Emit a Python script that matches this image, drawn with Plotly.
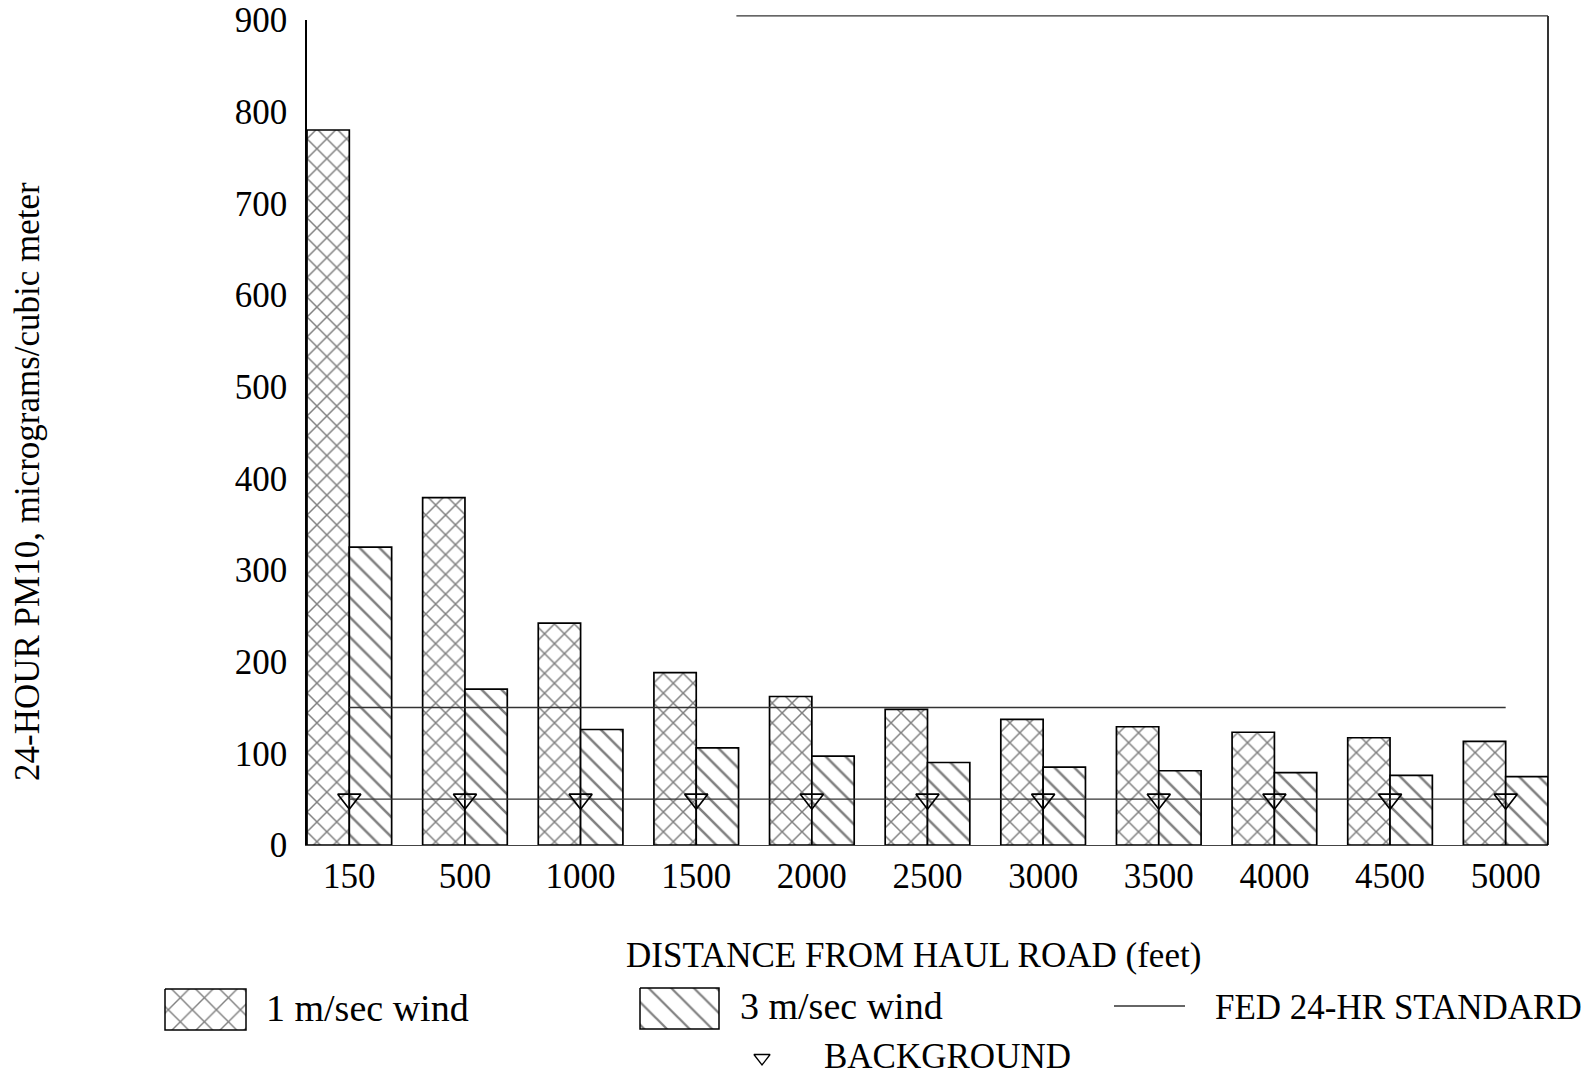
import plotly.graph_objects as go

# 24-hour PM10 concentration vs distance from the haul road
distances = ["150", "500", "1000", "1500", "2000", "2500", "3000", "3500", "4000", "4500", "5000"]
wind_1ms = [780, 379, 242, 188, 162, 148, 137, 129, 123, 117, 113]
wind_3ms = [325, 170, 126, 106, 97, 90, 85, 81, 79, 76, 74.5]
fed_standard = [150] * len(distances)
background = [50] * len(distances)
y_ticks = [0, 100, 200, 300, 400, 500, 600, 700, 800, 900]

FONT = "Liberation Serif"
W, H = 1591, 1079
BARGAP = 0.268
half_group = (1 - BARGAP) / 2

fig = go.Figure()

fig.add_trace(go.Bar(
    x=distances, y=wind_1ms, name="1 m/sec wind",
    marker=dict(color="white", line=dict(color="black", width=1.7),
                pattern=dict(shape="x", fgcolor="black", bgcolor="white", size=14, solidity=0.2)),
    showlegend=False,
))
fig.add_trace(go.Bar(
    x=distances, y=wind_3ms, name="3 m/sec wind",
    marker=dict(color="white", line=dict(color="black", width=1.7),
                pattern=dict(shape="\\", fgcolor="black", bgcolor="white", size=14, solidity=0.18)),
    showlegend=False,
))
fig.add_trace(go.Scatter(
    x=distances, y=fed_standard, mode="lines", name="FED 24-HR STANDARD",
    line=dict(color="#333333", width=1.3), showlegend=False,
))
fig.add_trace(go.Scatter(
    x=distances, y=background, mode="lines+markers", name="BACKGROUND",
    line=dict(color="#333333", width=1.3),
    marker=dict(symbol="triangle-down-open", size=20, color="black", line=dict(width=1.7)),
    showlegend=False,
))

# Hand-built legend drawn on a full-page pixel overlay axis
legend_layout = dict(
    box1=(165, 246, 989, 1030),
    box2=(640, 719, 988, 1029),
    fed_line=(1114, 1185, 1006),
    tri=(762, 1058),
)
x0, x1, y0, y1 = legend_layout["box1"]
fig.add_trace(go.Scatter(
    x=[x0, x1, x1, x0, x0], y=[y0, y0, y1, y1, y0], xaxis="x2", yaxis="y2",
    mode="lines", fill="toself", fillcolor="white", line=dict(color="black", width=1.5),
    fillpattern=dict(shape="x", fgcolor="black", bgcolor="white", size=17, solidity=0.16),
    showlegend=False, hoverinfo="skip",
))
x0, x1, y0, y1 = legend_layout["box2"]
fig.add_trace(go.Scatter(
    x=[x0, x1, x1, x0, x0], y=[y0, y0, y1, y1, y0], xaxis="x2", yaxis="y2",
    mode="lines", fill="toself", fillcolor="white", line=dict(color="black", width=1.5),
    fillpattern=dict(shape="\\", fgcolor="black", bgcolor="white", size=16, solidity=0.14),
    showlegend=False, hoverinfo="skip",
))
lx0, lx1, ly = legend_layout["fed_line"]
fig.add_trace(go.Scatter(
    x=[lx0, lx1], y=[ly, ly], xaxis="x2", yaxis="y2", mode="lines",
    line=dict(color="#333333", width=1.3), showlegend=False, hoverinfo="skip",
))
tx, ty = legend_layout["tri"]
fig.add_trace(go.Scatter(
    x=[tx], y=[ty], xaxis="x2", yaxis="y2", mode="markers",
    marker=dict(symbol="triangle-down-open", size=14, color="black", line=dict(width=1.3)),
    showlegend=False, hoverinfo="skip",
))

text_font = dict(family=FONT, size=35, color="black")
lower_font = dict(family=FONT, size=38, color="black")
annotations = [
    dict(x=913, y=955, text="DISTANCE FROM HAUL ROAD (feet)", xanchor="center", font=text_font),
    dict(x=264, y=1008, text="1 m/sec wind", xanchor="left", font=lower_font),
    dict(x=738, y=1006, text="3 m/sec wind", xanchor="left", font=lower_font),
    dict(x=1213, y=1007, text="FED 24-HR STANDARD", xanchor="left", font=text_font),
    dict(x=822, y=1056, text="BACKGROUND", xanchor="left", font=text_font),
]
for a in annotations:
    a.update(xref="x2", yref="y2", yanchor="middle", showarrow=False)
annotations.append(dict(
    x=27, y=482, xref="x2", yref="y2", text="24-HOUR PM10, micrograms/cubic meter",
    textangle=-90, showarrow=False, xanchor="center", yanchor="middle", font=text_font,
))

plot_left, plot_right, plot_top, plot_bottom = 307, 1548, 20, 845

fig.update_layout(
    width=W, height=H,
    margin=dict(l=0, r=0, t=0, b=0, autoexpand=False),
    paper_bgcolor="white", plot_bgcolor="rgba(0,0,0,0)",
    barmode="group", bargap=BARGAP, bargroupgap=0,
    font=dict(family=FONT, size=35, color="black"),
    xaxis=dict(
        domain=[plot_left / W, plot_right / W],
        type="category",
        range=[-half_group, len(distances) - 1 + half_group],
        showline=True, linecolor="#444444", linewidth=1.2,
        showgrid=False, zeroline=False, ticks="",
        ticklabelstandoff=0, automargin=False,
        tickfont=dict(family=FONT, size=35, color="black"),
    ),
    yaxis=dict(
        domain=[1 - plot_bottom / H, 1 - plot_top / H],
        range=[0, 900],
        tickvals=y_ticks,
        showline=True, linecolor="black", linewidth=1.6,
        showgrid=False, zeroline=False, ticks="",
        ticklabelstandoff=11, automargin=False,
        tickfont=dict(family=FONT, size=35, color="black"),
    ),
    xaxis2=dict(domain=[0, 1], range=[0, W], visible=False, anchor="y2",
                fixedrange=True, automargin=False),
    yaxis2=dict(domain=[0, 1], range=[H, 0], visible=False, anchor="x2",
                fixedrange=True, automargin=False),
    annotations=annotations,
    shapes=[
        # right frame edge
        dict(type="line", xref="x domain", yref="y domain", x0=1, x1=1, y0=0, y1=1.005,
             line=dict(color="black", width=1.6)),
        # partial top frame edge
        dict(type="line", xref="x domain", yref="y domain", x0=0.346, x1=1, y0=1.005, y1=1.005,
             line=dict(color="#333333", width=1.2)),
    ],
)

fig.write_html("out.html")
